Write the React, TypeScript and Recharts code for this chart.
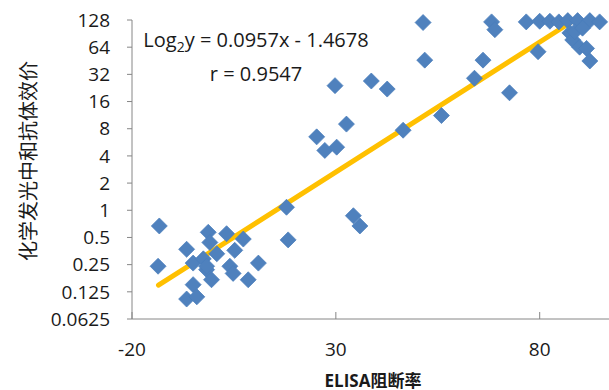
import { ScatterChart, Scatter, XAxis, YAxis, ReferenceLine } from "recharts"

// ELISA blocking rate (%) vs. chemiluminescent neutralizing antibody titer
const elisaRate = [
  -13.3, -13.6, -6.6, -1.3, 3.2, 7.3, 5.2, -0.9, 0.8, -5, -2.5, -1.7, -0.5, 4, 4.8, 8.5, 11, -5, -6.6, -4.1, -1.7,
  17.9, 18.3, 29.8, 38.7, 42.6, 32.6, 25.3, 27.3, 30.2, 46.5, 55.9, 34.3, 35.9, 51.8, 51.4, 68.2, 69, 66.1, 64,
  72.6, 79.6, 76.7, 80, 82.5, 84.7, 86.9, 89.3, 92.3, 94.7, 87.4, 88.1, 89.8, 91.5, 92.3, 88.6, 90.5,
]
const titer = [
  0.67, 0.24, 0.37, 0.57, 0.55, 0.48, 0.36, 0.44, 0.33, 0.26, 0.29, 0.22, 0.17, 0.24, 0.2, 0.17, 0.26, 0.15, 0.104,
  0.11, 0.24, 1.08, 0.47, 24, 27, 22, 9, 6.5, 4.6, 5, 7.7, 11.2, 0.87, 0.67, 46, 120, 122, 100, 46, 29, 20, 57, 122,
  124, 124, 122, 126, 126, 126, 122, 92, 77, 64, 62, 45, 95, 104,
]

const yTicks = [0.0625, 0.125, 0.25, 0.5, 1, 2, 4, 8, 16, 32, 64, 128]
const xTicks = [-20, 30, 80]

// trend line ends
const trendX = [-13.5, 88.5]
const trendY = [0.148, 128]

const points = elisaRate.map((x, i) => ({ x, y: titer[i] }))

const tickFont = { fontFamily: "Open Sans", fontSize: 19, fill: "#1a1a1a" }

function Diamond(props: any) {
  const { cx, cy } = props
  const r = 8
  return (
    <path
      d={`M${cx},${cy - r}L${cx + r},${cy}L${cx},${cy + r}L${cx - r},${cy}Z`}
      fill="#4F81BD"
      stroke="#4A7EBB"
      strokeWidth={0.75}
    />
  )
}

export default function App() {
  return (
    <div style={{ position: "absolute", left: 0, top: 0, width: 609, height: 390, background: "#fff" }}>
      <ScatterChart width={609} height={390} margin={{ top: 20, right: 0, bottom: 11, left: 0 }}>
        <XAxis
          type="number"
          dataKey="x"
          domain={[-20, 97]}
          ticks={xTicks}
          height={60}
          tickSize={-7}
          tickMargin={31}
          stroke="#868686"
          tick={tickFont}
        />
        <YAxis
          type="number"
          dataKey="y"
          scale="log"
          domain={[0.0625, 128]}
          ticks={yTicks}
          width={132}
          tickSize={5}
          tickMargin={17}
          stroke="#868686"
          tick={tickFont}
          interval={0}
        />
        <Scatter data={points} shape={<Diamond />} isAnimationActive={false} />
        <ReferenceLine
          segment={[
            { x: trendX[0], y: trendY[0] },
            { x: trendX[1], y: trendY[1] },
          ]}
          stroke="#FFC000"
          strokeWidth={5}
          strokeLinecap="round"
          ifOverflow="visible"
        />
      </ScatterChart>

      <div
        style={{
          position: "absolute",
          left: 143,
          top: 26,
          width: 226,
          textAlign: "center",
          fontFamily: "Open Sans",
          fontSize: 20,
          lineHeight: "27px",
          color: "#1a1a1a",
          whiteSpace: "nowrap",
        }}
      >
        <div>
          Log<sub style={{ fontSize: 14 }}>2</sub>y = 0.0957x - 1.4678
        </div>
        <div>r = 0.9547</div>
      </div>

      <div
        style={{
          position: "absolute",
          left: 28,
          top: 161,
          transform: "translate(-50%, -50%) rotate(-90deg)",
          fontFamily: "Noto Sans CJK SC",
          fontSize: 20,
          lineHeight: 1,
          color: "#1a1a1a",
          whiteSpace: "nowrap",
        }}
      >
        化学发光中和抗体效价
      </div>

      <div
        style={{
          position: "absolute",
          left: 373,
          top: 380,
          transform: "translate(-50%, -50%)",
          fontFamily: "Open Sans, Noto Sans CJK SC",
          fontSize: 17,
          fontWeight: 700,
          lineHeight: 1,
          color: "#1a1a1a",
          whiteSpace: "nowrap",
        }}
      >
        ELISA阻断率
      </div>
    </div>
  )
}
